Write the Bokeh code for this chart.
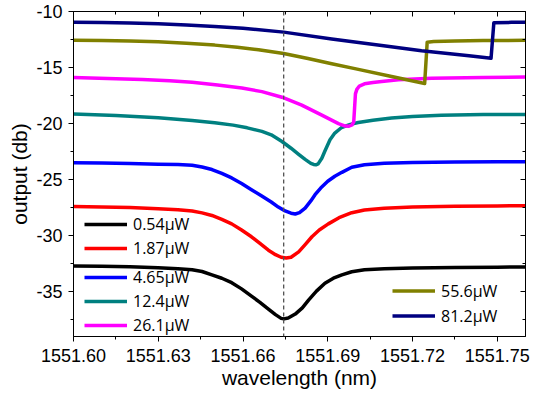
from bokeh.plotting import figure
from bokeh.models import (Range1d, FixedTicker, LinearAxis, Span, Legend,
                          LegendItem, PrintfTickFormatter)
from bokeh.embed import file_html
from bokeh.resources import INLINE

# ---------------- data ----------------
wl_054 = [1551.600, 1551.610, 1551.620, 1551.630, 1551.637, 1551.642, 1551.6455, 1551.649,
          1551.6525, 1551.656, 1551.6595, 1551.663, 1551.666, 1551.669, 1551.6715, 1551.6735,
          1551.6745, 1551.676, 1551.6785, 1551.681, 1551.6832, 1551.686, 1551.689, 1551.692,
          1551.695, 1551.6985, 1551.703, 1551.710, 1551.720, 1551.735, 1551.750, 1551.760]
db_054 = [-32.70, -32.73, -32.78, -32.86, -32.95, -33.04, -33.20, -33.50,
          -33.80, -34.20, -34.75, -35.40, -35.95, -36.55, -37.05, -37.38,
          -37.43, -37.35, -37.00, -36.45, -35.75, -34.95, -34.25, -33.80,
          -33.50, -33.22, -33.05, -32.95, -32.88, -32.84, -32.81, -32.80]

wl_187 = [1551.600, 1551.610, 1551.620, 1551.630, 1551.637, 1551.642, 1551.6455, 1551.649,
          1551.6525, 1551.656, 1551.6595, 1551.663, 1551.666, 1551.669, 1551.6715, 1551.6735,
          1551.6753, 1551.677, 1551.6797, 1551.682, 1551.6844, 1551.687, 1551.6902, 1551.694,
          1551.6985, 1551.703, 1551.710, 1551.720, 1551.735, 1551.750, 1551.760]
db_187 = [-27.40, -27.44, -27.50, -27.60, -27.70, -27.80, -27.97, -28.20,
          -28.55, -28.95, -29.50, -30.10, -30.70, -31.30, -31.70, -31.93,
          -32.00, -31.93, -31.45, -30.80, -30.10, -29.50, -28.95, -28.40,
          -27.95, -27.72, -27.55, -27.45, -27.38, -27.35, -27.33]

wl_465 = [1551.600, 1551.610, 1551.620, 1551.630, 1551.637, 1551.642, 1551.6455, 1551.649,
          1551.6525, 1551.656, 1551.6595, 1551.663, 1551.6665, 1551.670, 1551.6725, 1551.6749,
          1551.677, 1551.6785, 1551.680, 1551.682, 1551.684, 1551.6855, 1551.6875, 1551.690,
          1551.6925, 1551.695, 1551.6985, 1551.703, 1551.710, 1551.720, 1551.735, 1551.750,
          1551.760]
db_465 = [-23.50, -23.52, -23.56, -23.62, -23.66, -23.72, -23.88, -24.10,
          -24.45, -24.85, -25.35, -25.90, -26.45, -27.00, -27.45, -27.80,
          -28.00, -28.07, -27.95, -27.55, -26.90, -26.35, -25.75, -25.15,
          -24.70, -24.35, -23.90, -23.68, -23.55, -23.48, -23.44, -23.41,
          -23.40]

wl_124 = [1551.600, 1551.615, 1551.630, 1551.642, 1551.650, 1551.6565, 1551.6615, 1551.6667,
          1551.670, 1551.6738, 1551.677, 1551.6797, 1551.682, 1551.684, 1551.685, 1551.6858,
          1551.6866, 1551.6879, 1551.689, 1551.6908, 1551.6925, 1551.6949, 1551.698, 1551.7008,
          1551.706, 1551.7126, 1551.720, 1551.7302, 1551.745, 1551.760]
db_124 = [-19.15, -19.28, -19.48, -19.72, -19.92, -20.14, -20.38, -20.70,
          -21.00, -21.60, -22.20, -22.75, -23.20, -23.55, -23.65, -23.68,
          -23.60, -23.10, -22.45, -21.45, -20.85, -20.35, -20.07, -19.90,
          -19.70, -19.50, -19.36, -19.26, -19.20, -19.18]

wl_261 = [1551.600, 1551.612, 1551.6244, 1551.634, 1551.642, 1551.651, 1551.6596, 1551.6667,
          1551.6738, 1551.6808, 1551.6879, 1551.6938, 1551.6962, 1551.6975, 1551.6986, 1551.6992,
          1551.6995, 1551.6998, 1551.7003, 1551.7012, 1551.703, 1551.706, 1551.7091, 1551.715,
          1551.7267, 1551.745, 1551.760]
db_261 = [-15.90, -15.97, -16.07, -16.18, -16.32, -16.55, -16.82, -17.15,
          -17.65, -18.35, -19.25, -20.00, -20.22, -20.24, -20.12, -19.85,
          -18.60, -17.35, -16.95, -16.65, -16.45, -16.33, -16.25, -16.10,
          -15.96, -15.88, -15.85]

wl_556 = [1551.600, 1551.610, 1551.620, 1551.630, 1551.640, 1551.650, 1551.658, 1551.6655,
          1551.6744, 1551.683, 1551.6914, 1551.700, 1551.7126, 1551.7243, 1551.7252, 1551.7275,
          1551.735, 1551.745, 1551.760]
db_556 = [-12.57, -12.58, -12.63, -12.71, -12.83, -13.00, -13.20, -13.42,
          -13.74, -14.20, -14.66, -15.12, -15.80, -16.43, -12.74, -12.68,
          -12.63, -12.59, -12.57]

wl_812 = [1551.600, 1551.610, 1551.620, 1551.630, 1551.640, 1551.650, 1551.660, 1551.6744,
          1551.6914, 1551.7091, 1551.7232, 1551.740, 1551.7478, 1551.7488, 1551.755, 1551.760]
db_812 = [-10.95, -10.98, -11.03, -11.10, -11.20, -11.33, -11.49, -11.84,
          -12.45, -13.03, -13.50, -13.95, -14.18, -11.00, -10.97, -10.95]

labels = ["0.54\u03bcW", "1.87\u03bcW", "4.65\u03bcW", "12.4\u03bcW", "26.1\u03bcW",
          "55.6\u03bcW", "81.2\u03bcW"]
colors = ["#000000", "#ff0000", "#0000ff", "#008080", "#ff00ff", "#808000", "#000080"]

x_ticks = [1551.60, 1551.63, 1551.66, 1551.69, 1551.72, 1551.75]
x_minor = [1551.615, 1551.645, 1551.675, 1551.705, 1551.735]
y_ticks = [-35, -30, -25, -20, -15, -10]
y_minor = [-37.5, -32.5, -27.5, -22.5, -17.5, -12.5]
dash_wl = 1551.6744

# ---------------- figure ----------------
p = figure(width=530, height=395, output_backend="svg", toolbar_location=None,
           x_range=Range1d(1551.60, 1551.76), y_range=Range1d(-39.0, -10.0),
           min_border_left=73, min_border_top=11, min_border_right=5, min_border_bottom=59)
p.background_fill_color = "white"
p.border_fill_color = "white"
p.outline_line_color = "black"
p.xgrid.visible = False
p.ygrid.visible = False

series = [(wl_054, db_054), (wl_187, db_187), (wl_465, db_465), (wl_124, db_124),
          (wl_261, db_261), (wl_556, db_556), (wl_812, db_812)]
rends = []
for (xs, ys), c in zip(series, colors):
    rends.append(p.line(xs, ys, line_color=c, line_width=3.5, line_join="round"))

p.add_layout(Span(location=dash_wl, dimension="height", line_color="#555555",
                  line_dash="4 3", line_width=1.3))

xt = FixedTicker(ticks=x_ticks, minor_ticks=x_minor)
yt = FixedTicker(ticks=y_ticks, minor_ticks=y_minor)

def style_main(ax):
    ax.axis_line_color = "black"
    ax.major_tick_line_color = "black"
    ax.minor_tick_line_color = "black"
    ax.major_tick_in = 0
    ax.major_tick_out = 5
    ax.minor_tick_in = 0
    ax.minor_tick_out = 3
    ax.major_label_text_font = "Liberation Sans"
    ax.major_label_text_font_size = "18px"
    ax.major_label_text_color = "black"
    ax.axis_label_text_font = "Liberation Sans"
    ax.axis_label_text_font_size = "21px"
    ax.axis_label_text_font_style = "normal"
    ax.axis_label_text_color = "black"

xa = p.xaxis[0]
xa.ticker = xt
xa.formatter = PrintfTickFormatter(format="%.2f")
xa.axis_label = "wavelength (nm)"
style_main(xa)
xa.major_label_standoff = 7
xa.axis_label_standoff = 1

ya = p.yaxis[0]
ya.ticker = yt
ya.formatter = PrintfTickFormatter(format="%d")
ya.axis_label = "output (db)"
style_main(ya)
ya.major_label_standoff = 6
ya.axis_label_standoff = 2

for loc, tk in (("above", xt), ("right", yt)):
    ax = LinearAxis(ticker=tk, major_tick_in=5, major_tick_out=0, minor_tick_in=3,
                    minor_tick_out=0, major_label_text_font_size="1px",
                    major_label_text_color=None,
                    major_label_standoff=0, axis_line_color="black",
                    major_tick_line_color="black", minor_tick_line_color="black")
    p.add_layout(ax, loc)

common = dict(orientation="vertical", glyph_width=43, padding=0, margin=0,
              label_standoff=6, label_text_font="Open Sans", label_text_font_size="16px",
              label_text_color="black", background_fill_alpha=0, border_line_alpha=0)
leg_a = Legend(items=[LegendItem(label=labels[i], renderers=[rends[i]]) for i in (0, 1)],
               location=(11, 77), glyph_height=22, label_height=22, spacing=2, **common)
leg_b = Legend(items=[LegendItem(label=labels[i], renderers=[rends[i]]) for i in (2, 3, 4)],
               location=(11, 0), glyph_height=22, label_height=22, spacing=2, **common)
leg_c = Legend(items=[LegendItem(label=labels[i], renderers=[rends[i]]) for i in (5, 6)],
               location=(319, 9), glyph_height=23, label_height=23, spacing=2, **common)
for lg in (leg_a, leg_b, leg_c):
    p.add_layout(lg)

open("out.html", "w").write(file_html(p, INLINE))
